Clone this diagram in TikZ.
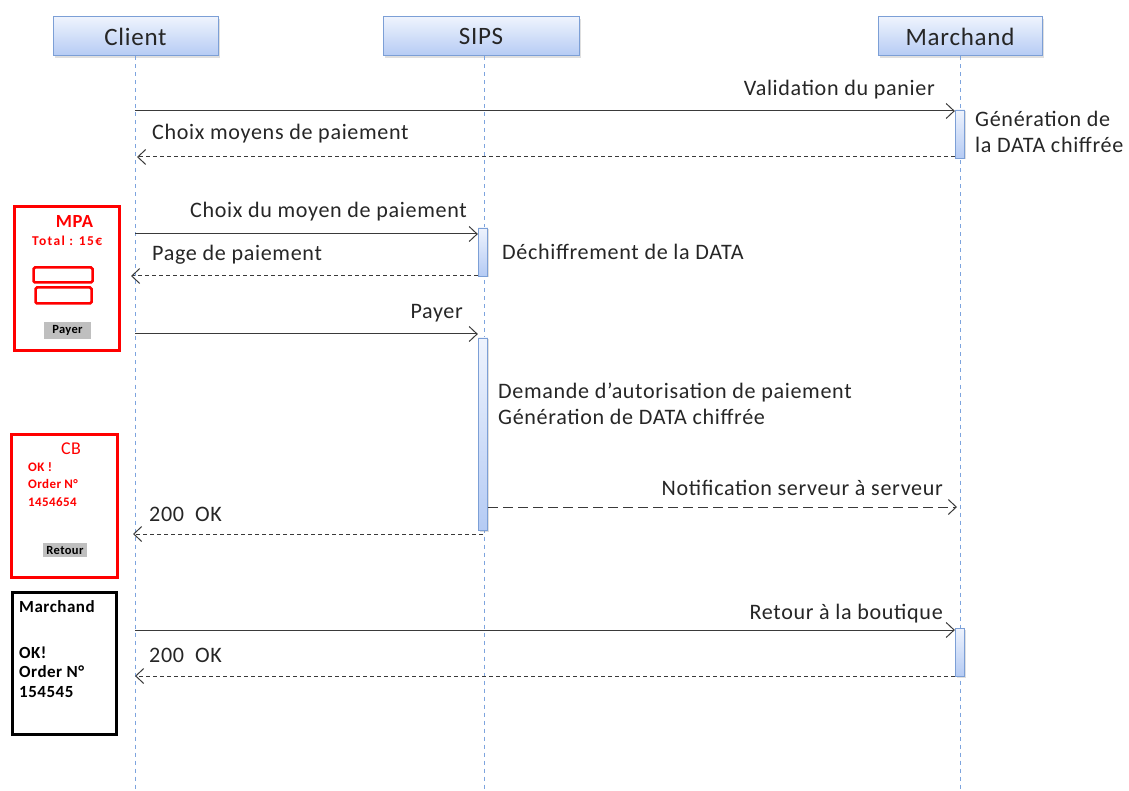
\documentclass[tikz,border=0pt]{standalone}
\usepackage{fontspec}
\setmainfont{Carlito}[LetterSpace=3]
\usetikzlibrary{arrows.meta,shadows}
\definecolor{hdrtop}{HTML}{EEF3FD}
\definecolor{hdrbot}{HTML}{B5CBF4}
\definecolor{hdrline}{HTML}{7C9FD6}
\definecolor{life}{HTML}{7DA4DE}
\definecolor{msg}{HTML}{3A3A3A}
\definecolor{txt}{HTML}{262626}
\definecolor{scred}{HTML}{FF0000}
\definecolor{btn}{HTML}{BFBFBF}
\begin{document}
\begin{tikzpicture}[x=1pt,y=-1pt,
  header/.style={draw=hdrline, line width=1pt, top color=hdrtop, bottom color=hdrbot,
    minimum height=39pt, inner sep=0pt, font=\fontsize{25}{27}\selectfont, text=txt,
    drop shadow={shadow xshift=2pt, shadow yshift=-2.5pt, opacity=0.25}},
  lifeline/.style={draw=life, line width=1pt, dash pattern=on 4pt off 4pt},
  actbar/.style={draw=hdrline, line width=0.8pt, top color=hdrtop, bottom color=hdrbot,
    minimum width=9.5pt, inner sep=0pt,
    drop shadow={shadow xshift=1.5pt, shadow yshift=-1.5pt, opacity=0.25}},
  callmsg/.style={draw=msg, line width=1pt, -{Straight Barb[length=8pt,width=15pt,line width=1pt]}},
  retmsg/.style={callmsg, dash pattern=on 4pt off 3pt},
  notifmsg/.style={callmsg, dash pattern=on 10pt off 5pt},
  lbl/.style={inner sep=0pt, font=\fontsize{22.1}{24}\selectfont, text=txt},
  screen/.style={draw=scred, line width=3pt, inner sep=0pt},
  field/.style={draw=scred, line width=2.5pt, rounded corners=1.5pt, inner sep=0pt},
  button/.style={fill=btn, inner sep=0pt, font=\fontsize{12.5}{13}\selectfont\bfseries, text=black},
  redtxt/.style={inner sep=0pt, text=scred, font=\fontsize{13}{14}\selectfont\bfseries},
  blacktxt/.style={inner sep=0pt, text=black, font=\fontsize{17}{19}\selectfont\bfseries}
]
\useasboundingbox (0,0) rectangle (1129,791);

% headers
\node[header, minimum width=165pt] (client) at (135.5,36.5) {Client};
\node[header, minimum width=196pt] (sips) at (481,36.5) {SIPS};
\node[header, minimum width=164pt] (marchand) at (960,36.5) {Marchand};

% lifelines
\coordinate (cEnd) at (135,791);
\coordinate (sEnd) at (484,791);
\coordinate (mEnd) at (960,791);
\draw[lifeline] (client.south -| cEnd) -- (cEnd);
\draw[lifeline] (sips.south -| sEnd) -- (sEnd);
\draw[lifeline] (marchand.south -| mEnd) -- (mEnd);

% activation bars
\node[actbar, minimum height=48pt] (a1) at (960,134) {};
\node[actbar, minimum height=48pt] (a2) at (483,252) {};
\node[actbar, minimum height=192pt] (a3) at (483,434) {};
\node[actbar, minimum height=48pt] (a4) at (960,652) {};

% messages
\coordinate (c1) at (135,111);
\draw[callmsg] (c1) -- (c1 -| a1.west);
\node[lbl, anchor=base east] (l1) at (935,96) {Validation du panier};

\coordinate (c2) at (137,157);
\draw[retmsg] (c2 -| a1.west) -- (c2);
\node[lbl, anchor=base west] (l2) at (152,140) {Choix moyens de paiement};
\node[lbl, anchor=base west] (n1) at (975,127) {Génération de};
\node[lbl, anchor=base west] (n2) at (975,153) {la DATA chiffrée};

\coordinate (c3) at (135,234);
\draw[callmsg] (c3) -- (c3 -| a2.west);
\node[lbl, anchor=base east] (l3) at (467,218) {Choix du moyen de paiement};

\coordinate (c4) at (131,276);
\draw[retmsg] (c4 -| a2.west) -- (c4);
\node[lbl, anchor=base west] (l4) at (152,261) {Page de paiement};
\node[lbl, anchor=base west] (n3) at (502,260) {Déchiffrement de la DATA};

\coordinate (c5) at (135,334);
\draw[callmsg] (c5) -- (c5 -| a3.west);
\node[lbl, anchor=base east] (l5) at (463,319) {Payer};
\node[lbl, anchor=base west] (n4) at (498,398) {Demande d’autorisation de paiement};
\node[lbl, anchor=base west] (n5) at (498,424) {Génération de DATA chiffrée};

\coordinate (c6) at (957,507);
\draw[notifmsg] (c6 -| a3.east) -- (c6);
\node[lbl, anchor=base east] (l6) at (943,495) {Notification serveur à serveur};

\coordinate (c7) at (133,534);
\draw[retmsg] (c7 -| a3.center) -- (c7);
\node[lbl, anchor=base west] (l7) at (149,521) {200\enspace OK};

\coordinate (c8) at (135,630);
\draw[callmsg] (c8) -- (c8 -| a4.west);
\node[lbl, anchor=base east] (l8) at (943,619) {Retour à la boutique};

\coordinate (c9) at (135,676);
\draw[retmsg] (c9 -| a4.west) -- (c9);
\node[lbl, anchor=base west] (l9) at (149,662) {200\enspace OK};

% screen MPA
\node[screen, minimum width=105pt, minimum height=143pt] (mpa) at (66.5,278.5) {};
\node[inner sep=0pt, text=scred, font=\fontsize{18.5}{20}\selectfont\bfseries] (mpat) at (74.5,221.5) {MPA};
\node[redtxt, anchor=base west, font=\fontsize{13.5}{14}\selectfont\bfseries\addfontfeature{LetterSpace=10}] (tot) at (32,246) {Total : 15€};
\node[field, minimum width=59pt, minimum height=15pt] (f1) at (63,275) {};
\node[field, minimum width=56pt, minimum height=16pt] (f2) at (63.5,295.5) {};
\node[button, minimum width=47pt, minimum height=17pt] (pay) at (67.5,330.5) {Payer};

% screen CB
\node[screen, minimum width=106pt, minimum height=143pt] (cb) at (64,505.5) {};
\node[inner sep=0pt, text=scred, font=\fontsize{18}{20}\selectfont] (cbt) at (71,449) {CB};
\node[redtxt, anchor=base west] (cb1) at (28,471) {OK !};
\node[redtxt, anchor=base west] (cb2) at (28,488) {Order N°};
\node[redtxt, anchor=base west] (cb3) at (28,506) {1454654};
\node[button, minimum width=44pt, minimum height=14pt] (ret) at (65,550) {Retour};

% screen Marchand
\node[draw=black, line width=3.5pt, inner sep=0pt, minimum width=104pt, minimum height=142pt] (mar) at (64.5,663.5) {};
\node[blacktxt, anchor=base west] (m1) at (19,612) {Marchand};
\node[blacktxt, anchor=base west] (m2) at (19,658) {OK!};
\node[blacktxt, anchor=base west] (m3) at (19,677) {Order N°};
\node[blacktxt, anchor=base west] (m4) at (19,697) {154545};
\end{tikzpicture}
\end{document}
